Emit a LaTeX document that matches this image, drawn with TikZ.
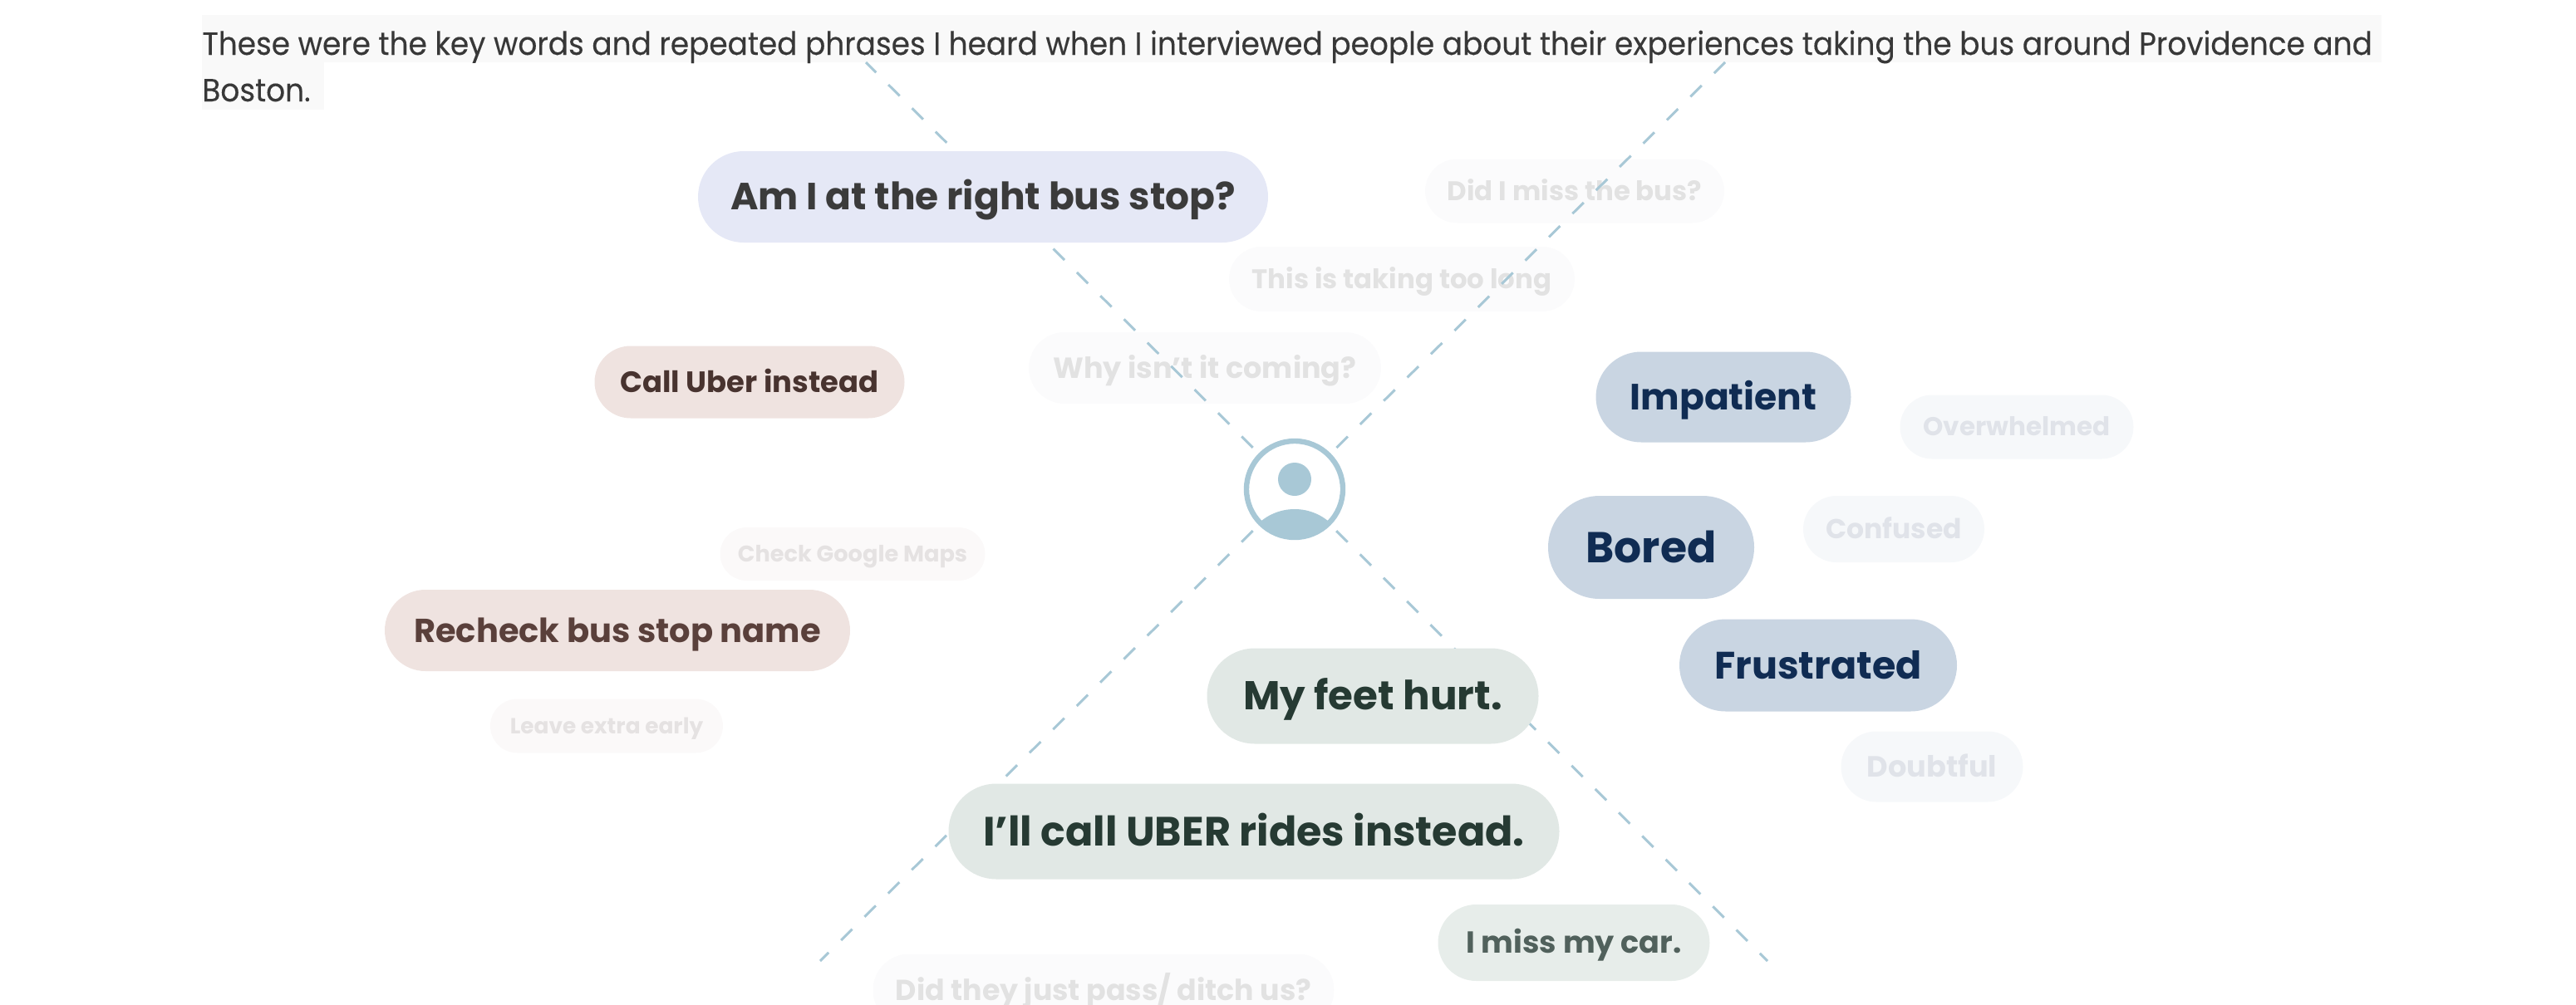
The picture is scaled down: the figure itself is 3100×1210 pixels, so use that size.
\documentclass[tikz,border=0pt]{standalone}
\usepackage{fontspec}
\setmainfont{Poppins}
\newfontfamily\introfont[FakeStretch=0.93, FakeBold=0.15]{Poppins}
\usetikzlibrary{shapes.misc}

\definecolor{iconblue}{HTML}{A8C8D6}
\definecolor{barback}{HTML}{F9F9F9}
\definecolor{lilacfill}{HTML}{E5E8F6}
\definecolor{lilactext}{HTML}{3B3B3B}
\definecolor{rosefill}{HTML}{EFE3E0}
\definecolor{rosetext}{HTML}{5A403B}
\definecolor{navyfill}{HTML}{C9D5E2}
\definecolor{navytext}{HTML}{102C53}
\definecolor{sagefill}{HTML}{E1E8E5}
\definecolor{sagetext}{HTML}{263A33}
\definecolor{greyfill}{HTML}{FBFBFC}
\definecolor{greytext}{HTML}{E2E2E2}
\definecolor{bluefill}{HTML}{F6F8FA}
\definecolor{bluetext}{HTML}{E0E3E9}
\definecolor{warmfill}{HTML}{FBF9F9}
\definecolor{warmtext}{HTML}{E5E2E2}

\tikzset{pill/.style n args = {3}{shape=rounded rectangle, inner sep=0pt, minimum width=#1*0.5pt, minimum height=#2*0.5pt, text height=0.7*#3 pt, text depth=0pt, font=\fontsize{#3pt}{#3pt}\selectfont\bfseries}}
\tikzset{hubnode/.style = {circle, draw=iconblue, line width=3.2pt, minimum size=58pt, inner sep=0pt, outer sep=6.5pt}}
\tikzset{spoke/.style = {iconblue, line width=1.5pt, dash pattern=on 9.5pt off 10.5pt}}
\tikzset{intro/.style = {anchor=base west, inner sep=0pt, text=black!78, font=\fontsize{19.3pt}{22pt}\introfont}}

\begin{document}
\begin{tikzpicture}[x=0.5pt, y=-0.5pt]
		\useasboundingbox (0,0) rectangle (3100,1210);
		\clip (0,0) rectangle (3100,1210);
		% Intro text
		\fill[barback] (243,18) rectangle (2866,75);
		\fill[barback] (243,75) rectangle (390,132);
		\node[intro] (line1) at (243,66) {These were the key words and repeated phrases I heard when I interviewed people about their experiences taking the bus around Providence and};
		\node[intro] (line2) at (243,122) {Boston.};
		% Faded pills
		\node[pill={360}{77}{16.2}, fill=greyfill, text=greytext] (miss) at (1895,230) {Did I miss the bus?};
		\node[pill={416}{78}{16.2}, fill=greyfill, text=greytext] (long) at (1687,336) {This is taking too long};
		\node[pill={424}{86}{17.5}, fill=greyfill, text=greytext] (why) at (1450,443) {Why isn't it coming?};
		\node[pill={281}{77}{15.5}, fill=bluefill, text=bluetext] (over) at (2427,514) {Overwhelmed};
		\node[pill={218}{80}{16.5}, fill=bluefill, text=bluetext] (conf) at (2279,637) {Confused};
		\node[pill={219}{85}{17.6}, fill=bluefill, text=bluetext] (doubt) at (2325,923) {Doubtful};
		\node[pill={319}{64}{13.6}, fill=warmfill, text=warmtext] (maps) at (1026,667) {Check Google Maps};
		\node[pill={280}{65}{13.2}, fill=warmfill, text=warmtext] (early) at (730,874) {Leave extra early};
		\node[pill={555}{87}{17.4}, fill=greyfill, text=greytext] (ditch) at (1328,1192) {Did they just pass/ ditch us?};
		% Person in the middle
		\node[hubnode] (hub) at (1558,589) {};
		\fill[iconblue] (1558,577) circle (10pt);
		\begin{scope}
			\clip (hub.center) circle (29pt);
			\fill[iconblue] (1558,677) circle (32pt);
		\end{scope}
		% Spokes
		\coordinate (topl) at (1042,75);
		\coordinate (topr) at (2076,75);
		\coordinate (botl) at (987,1157);
		\coordinate (botr) at (2127,1157);
		\foreach \to in {topl, topr, botl, botr}
			\draw[spoke] (hub) -- (\to);
		% Pills on top
		\node[pill={686}{110}{22.75}, fill=lilacfill, text=lilactext] (stop) at (1183,237) {Am I at the right bus stop?};
		\node[pill={373}{87}{17.7}, fill=rosefill, text=rosetext!80!black] (uber) at (902,460) {Call Uber instead};
		\node[pill={560}{98}{20}, fill=rosefill, text=rosetext] (name) at (743,759) {Recheck bus stop name};
		\node[pill={307}{109}{22}, fill=navyfill, text=navytext] (imp) at (2074,478) {Impatient};
		\node[pill={248}{124}{26}, fill=navyfill, text=navytext] (bored) at (1987,659) {Bored};
		\node[pill={334}{111}{23}, fill=navyfill, text=navytext] (frus) at (2188,801) {Frustrated};
		\node[pill={399}{115}{24.2}, fill=sagefill, text=sagetext] (feet) at (1652,838) {My feet hurt.};
		\node[pill={735}{115}{24.6}, fill=sagefill, text=sagetext] (rides) at (1509,1001) {I’ll call UBER rides instead.};
		\node[pill={327}{92}{18.3}, fill=sagefill!80!white, text=sagetext!80!white] (car) at (1894,1135) {I miss my car.};
\end{tikzpicture}
\end{document}
